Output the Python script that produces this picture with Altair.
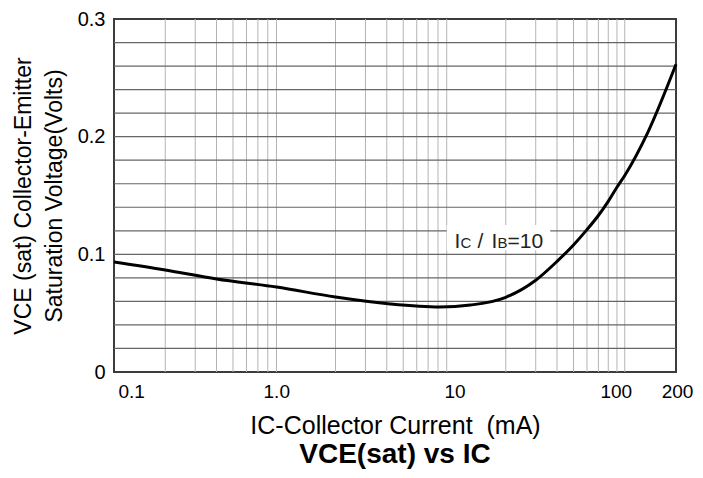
import altair as alt
import pandas as pd

# Curve: collector current (mA) vs VCE(sat) (V)
ic_ma = [0.1, 0.2, 0.4, 0.9, 2.0, 4.2, 8.2, 12.4, 20, 30, 40, 50, 60, 70,
         80, 90, 100, 136, 200]
vce_v = [0.0935, 0.0867, 0.079, 0.0722, 0.0637, 0.0578, 0.0552, 0.0569, 0.0635,
         0.078, 0.094, 0.108, 0.121, 0.133, 0.145, 0.157, 0.167, 0.203, 0.2615]

# Grid lines (the decade lines 1 and 10 are absent in the original)
x_grid = [0.2, 0.3, 0.4, 0.5, 0.6, 0.7, 0.8, 0.9,
          2, 3, 4, 5, 6, 7, 8, 9,
          20, 30, 40, 50, 60, 70, 80, 90, 100]
y_grid = [0.02, 0.04, 0.06, 0.08, 0.10, 0.12, 0.14, 0.16, 0.18, 0.20,
          0.22, 0.24, 0.26, 0.28]

x_ticks = [0.1, 1, 10, 100, 200]
y_ticks = [0, 0.1, 0.2, 0.3]

# annotation anchor (data space)
ann_ic = 10.0
ann_v = 0.1055
box_ic = [9.0, 36.5]
box_v = [0.1035, 0.125]

FONT = "Liberation Sans"
NB = "\u00a0"

df = pd.DataFrame({"ic": ic_ma, "vce": vce_v})
xs = alt.Scale(type="log", domain=[0.1, 200], nice=False)
ys = alt.Scale(domain=[0, 0.3], nice=False)

xax = alt.Axis(
    values=x_ticks, format="~g", grid=False, ticks=False, domain=False,
    labelExpr="datum.value == 1 ? '1.0' : datum.label",
    labelFlush=False,
    labelAlign={"condition": {"test": "datum.value == 0.1", "value": "left"},
                "value": "center"},
    labelOffset={"condition": [
        {"test": "datum.value == 0.1", "value": 4},
        {"test": "datum.value == 1", "value": -8},
        {"test": "datum.value == 100", "value": -9},
        {"test": "datum.value == 200", "value": 1}],
        "value": 0},
    labelFontSize=19, labelPadding=10, labelColor="black", labelFont=FONT,
    title="IC-Collector Current" + NB + NB + "(mA)", titleFontSize=25,
    titleFontWeight="normal", titleColor="black", titleFont=FONT,
    titlePadding=12)

yax = alt.Axis(
    values=y_ticks, format="~g", grid=False, ticks=False, domain=False,
    labelFontSize=20, labelPadding=9, labelColor="black", labelFont=FONT,
    title=["VCE (sat) Collector-Emitter", "Saturation Voltage(Volts)"],
    titleFontSize=23, titleFontWeight="normal", titleColor="black",
    titleFont=FONT, titleLineHeight=31, titlePadding=11)

line = alt.Chart(df).mark_line(
    color="black", strokeWidth=3, interpolate="monotone"
).encode(
    x=alt.X("ic:Q", scale=xs, axis=xax),
    y=alt.Y("vce:Q", scale=ys, axis=yax),
)

vgrid = alt.Chart(pd.DataFrame({"g": x_grid})).mark_rule(
    color="#b4b4b4", strokeWidth=1
).encode(x=alt.X("g:Q", scale=xs, axis=xax))

hgrid = alt.Chart(pd.DataFrame({"g": y_grid})).mark_rule(
    color="#666666", strokeWidth=1.2
).encode(y=alt.Y("g:Q", scale=ys, axis=yax))

box = alt.Chart(pd.DataFrame({"a": [0]})).mark_rect(color="white").encode(
    x=alt.XDatum(box_ic[0], scale=xs, axis=xax),
    x2=alt.X2Datum(box_ic[1]),
    y=alt.YDatum(box_v[0], scale=ys, axis=yax),
    y2=alt.Y2Datum(box_v[1]),
)


def piece(txt, size, dx):
    return alt.Chart(pd.DataFrame({"a": [0]})).mark_text(
        text=txt, fontSize=size, font=FONT, align="left", baseline="alphabetic",
        dx=dx, color="#222"
    ).encode(x=alt.XDatum(ann_ic, scale=xs, axis=xax),
             y=alt.YDatum(ann_v, scale=ys, axis=yax))


texts = [
    piece("I", 21, 0),
    piece("C", 15, 6),
    piece("/", 21, 23),
    piece("I", 21, 37),
    piece("B", 15, 43),
    piece("=10", 21, 53),
]

chart = alt.layer(vgrid, hgrid, box, line, *texts).properties(
    width=562, height=353,
    title=alt.TitleParams("VCE(sat) vs IC", orient="bottom", anchor="middle",
                          fontSize=28, fontWeight="bold", font=FONT, color="black",
                          offset=3),
    padding={"left": 106, "top": 11, "right": 18, "bottom": 98},
    autosize=alt.AutoSizeParams(type="none"),
).configure_view(stroke="#3c3c3c", strokeWidth=2)

chart.save("out.html", embed_options={"renderer": "svg", "actions": False})
